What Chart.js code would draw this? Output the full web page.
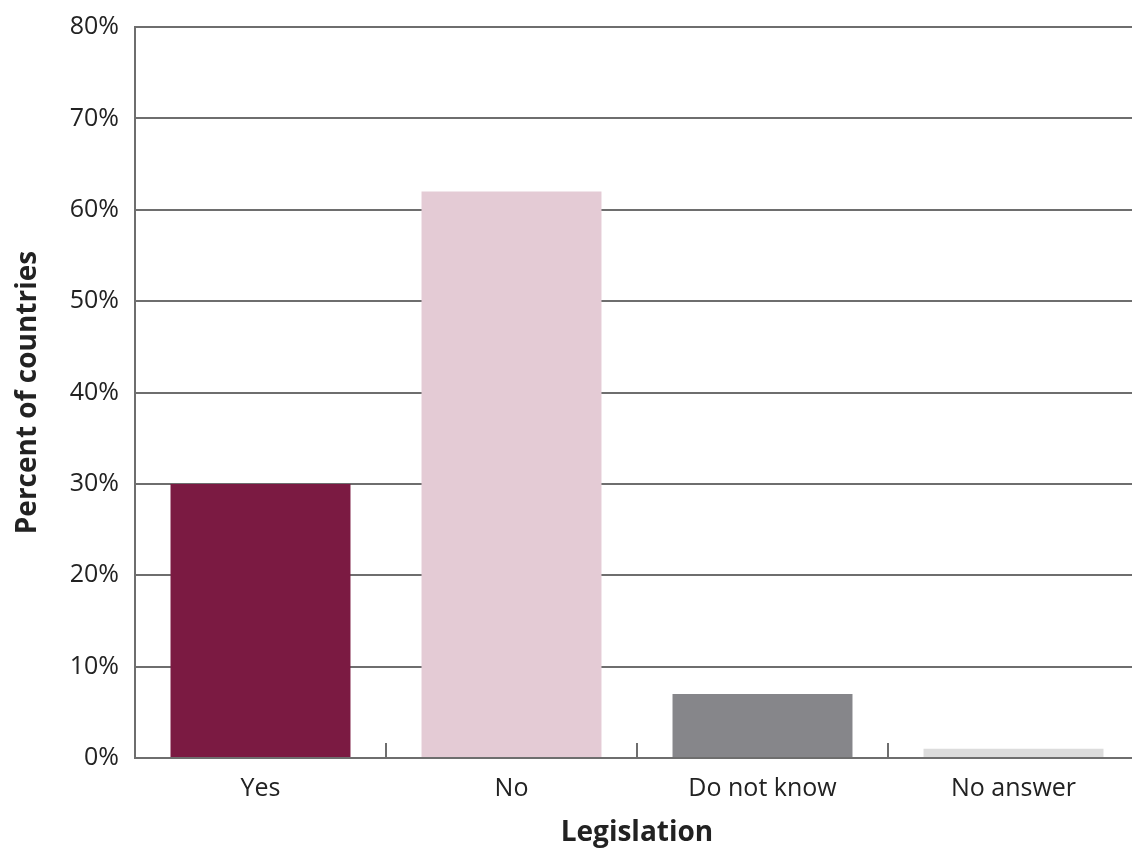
<!DOCTYPE html>
<html>
<head>
<meta charset="utf-8">
<script src="https://cdn.jsdelivr.net/npm/chart.js@4.4.1/dist/chart.umd.min.js"></script>
<style>
    html, body { margin: 0; padding: 0; background: #fff; overflow: hidden; }
    #wrap { position: absolute; left: 0; top: 0; width: 1142px; height: 855px; }
</style>
</head>
<body>
<div id="wrap"><canvas id="legislation-chart"></canvas></div>
<script>
const categories = ['Yes', 'No', 'Do not know', 'No answer'];
const percentValues = [30, 62, 7, 1];
const barColors = ['#7b1a42', '#e4cbd5', '#86868a', '#dcdcdc'];
const yAxisMax = 80;
const yAxisStep = 10;

const axisGrey = '#6e6e6e';
const textColor = '#222';
const fontFamily = '"Open Sans", Lato, sans-serif';

document.addEventListener('DOMContentLoaded', () => {
    const ctx = document.getElementById('legislation-chart').getContext('2d');

    new Chart(ctx, {
        type: 'bar',
        data: {
            labels: categories,
            datasets: [{
                data: percentValues,
                backgroundColor: barColors,
                borderWidth: 0,
                categoryPercentage: 1,
                barPercentage: 0.717
            }]
        },
        options: {
            responsive: true,
            maintainAspectRatio: false,
            animation: false,
            layout: {
                padding: { top: 27, right: 3, bottom: 0, left: 0 }
            },
            scales: {
                x: {
                    afterFit: scale => { scale.height = 97; },
                    grid: {
                        display: true,
                        drawOnChartArea: false,
                        drawTicks: true,
                        tickLength: -15,
                        color: axisGrey,
                        lineWidth: 2,
                        offset: true
                    },
                    border: { color: axisGrey, width: 2 },
                    ticks: {
                        color: textColor,
                        padding: 31,
                        font: { family: fontFamily, size: 25 }
                    },
                    title: {
                        display: true,
                        text: 'Legislation',
                        color: textColor,
                        padding: { top: 0, bottom: 5 },
                        font: { family: fontFamily, size: 28, weight: 'bold' }
                    }
                },
                y: {
                    min: 0,
                    max: yAxisMax,
                    afterFit: scale => {
                        scale.width = 135;
                        scale.paddingTop = 0;
                    },
                    grid: {
                        color: axisGrey,
                        lineWidth: 2,
                        drawTicks: false
                    },
                    border: { color: axisGrey, width: 2 },
                    ticks: {
                        stepSize: yAxisStep,
                        padding: 16,
                        color: textColor,
                        font: { family: fontFamily, size: 25 },
                        callback: value => value + '%'
                    },
                    title: {
                        display: true,
                        text: 'Percent of countries',
                        color: textColor,
                        padding: { top: 11, bottom: 0 },
                        font: { family: fontFamily, size: 28, weight: 'bold' }
                    }
                }
            },
            plugins: {
                legend: { display: false },
                tooltip: { enabled: false }
            }
        }
    });
});
</script>
</body>
</html>
